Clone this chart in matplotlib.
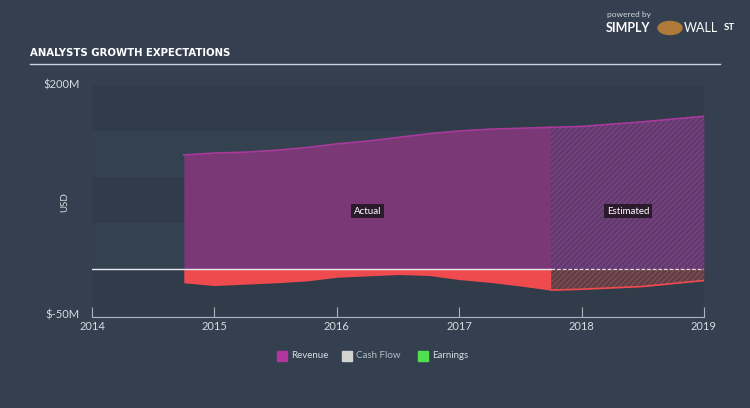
import matplotlib
matplotlib.use("Agg")
import matplotlib.pyplot as plt
from matplotlib.patches import Rectangle, Circle
import matplotlib.font_manager as fm

plt.rcParams['font.family'] = ['Lato', 'DejaVu Sans']
plt.rcParams['hatch.linewidth'] = 0.6

# ---------------- data ----------------
title = "ANALYSTS GROWTH EXPECTATIONS"
x_ticks = [2014, 2015, 2016, 2017, 2018, 2019]
y_tick_vals = [200, -50]
y_tick_labels = ["$200M", "$-50M"]

act_years = [2014.75, 2015.0, 2015.25, 2015.5, 2015.75, 2016.0, 2016.25,
             2016.5, 2016.75, 2017.0, 2017.25, 2017.5, 2017.75]
act_revenue = [124, 126, 127, 129, 132, 136, 139, 143, 147, 150, 152, 153, 154]
act_earnings = [-15, -18, -16.5, -15, -13, -9, -7.5, -6, -7, -11.5, -14.5, -18.5, -23]

est_years = [2017.75, 2018.0, 2018.5, 2019.0]
est_revenue = [154, 155, 160, 166]
est_earnings = [-23, -22, -19, -12.5]
est_cashflow = [0, 0, 0, 0]

legend_labels = ["Revenue", "Cash Flow", "Earnings"]
legend_colors = ["#b3349c", "#d2d2d2", "#4fe04f"]

# ---------------- condensed bold font for the title ----------------
def is_cond(f):
    n = f.name.lower()
    st = f.stretch
    return ("narrow" in n or "condensed" in n or
            st in ("condensed", "semi-condensed", "extra-condensed", "ultra-condensed") or
            (isinstance(st, int) and st < 500))

def wt(f):
    w = f.weight
    if isinstance(w, str):
        return {"bold": 700, "semibold": 600, "demibold": 600, "heavy": 800,
                "black": 900, "extra bold": 800}.get(w, 400)
    return w

cands = [f for f in fm.fontManager.ttflist if is_cond(f)]
bold_cands = [f for f in cands if wt(f) >= 600]
pick = bold_cands[0] if bold_cands else (cands[0] if cands else None)
if pick is not None:
    title_props = fm.FontProperties(fname=pick.fname, size=8.1)
else:
    title_props = fm.FontProperties(family="DejaVu Sans", weight="bold", size=7.5)

# ---------------- style ----------------
BG = "#344050"
BAND = "#303c4a"
PLOT = "#34414f"
REV = "#7b3877"
REV_EDGE = "#a93a9c"
REV_EST = "#633970"
REV_HATCH = "#7f4c88"
EARN = "#ef4b4f"
EARN_EST = "#603e46"
EARN_HATCH = "#925458"
TXT = "#d5dbe0"

W, H = 750, 408
fig = plt.figure(figsize=(W / 100, H / 100), dpi=100, facecolor=BG)

def fx(px):
    return px / W

def fy(py):
    return 1 - py / H

ax = fig.add_axes([fx(92), fy(315), fx(704) - fx(92), fy(85) - fy(315)])
ax.set_facecolor(PLOT)
ax.set_xlim(2014, 2019)
ax.set_ylim(-50, 200)

# background bands
for lo, hi in [(150, 200), (50, 100), (-50, 0)]:
    ax.axhspan(lo, hi, color=BAND, lw=0, zorder=0)

# actual
ax.fill_between(act_years, 0, act_revenue, color=REV, lw=0, zorder=2)
ax.plot(act_years, act_revenue, color=REV_EDGE, lw=1.2, zorder=3)
ax.fill_between(act_years, 0, act_earnings, color=EARN, lw=0, zorder=2)

# estimated
ax.fill_between(est_years, 0, est_revenue, color=REV_EST, lw=0, zorder=2)
ax.fill_between(est_years, 0, est_revenue, facecolor="none", edgecolor=REV_HATCH,
                hatch="//////", lw=0, zorder=2)
ax.plot(est_years, est_revenue, color=REV_EDGE, lw=1.2, zorder=3)
ax.fill_between(est_years, 0, est_earnings, color=EARN_EST, lw=0, zorder=2)
ax.fill_between(est_years, 0, est_earnings, facecolor="none", edgecolor=EARN_HATCH,
                hatch="//////", lw=0, zorder=2)
ax.plot(est_years, est_earnings, color=EARN, lw=1.2, zorder=3)
ax.plot(est_years, est_cashflow, color="#e8d8e4", lw=0.9, ls=(0, (3, 1.5)), zorder=4)

# zero line
ax.plot([2014, act_years[-1]], [0, 0], color="#e6eaee", lw=1.0, zorder=4)

# labels inside
for xv, lab in [(2016.25, "Actual"), (2018.38, "Estimated")]:
    ax.text(xv, 63, lab, color="white", fontsize=7, ha="center", va="center", zorder=5,
            bbox=dict(boxstyle="square,pad=0.3", fc="#2b1a2c", ec="none"))

# axes styling
for s in ["top", "right", "left"]:
    ax.spines[s].set_visible(False)
ax.spines["bottom"].set_color("#aab4be")
ax.spines["bottom"].set_linewidth(0.8)
ax.spines["bottom"].set_position(("data", -52))
ax.set_xticks(x_ticks)
ax.set_xticklabels([str(t) for t in x_ticks])
ax.tick_params(axis="x", colors="#aab4be", labelcolor=TXT, labelsize=8, length=7,
               width=0.8, direction="in", pad=3)
ax.set_yticks([])
ax.text(-0.02, 200, y_tick_labels[0], transform=ax.get_yaxis_transform(), ha="right",
        va="center", color=TXT, fontsize=8)
ax.text(-0.02, -50, y_tick_labels[1], transform=ax.get_yaxis_transform(), ha="right",
        va="center", color=TXT, fontsize=8)
fig.text(fx(65), fy(202), "USD", rotation=90, color=TXT, fontsize=7, ha="center", va="center")

# title and rule
fig.text(fx(30), fy(53), title, color="white", fontproperties=title_props,
         ha="left", va="center")
fig.add_artist(plt.Line2D([fx(30), fx(720)], [fy(64), fy(64)], color="#c8d3dc", lw=1.0))

# logo
fig.text(fx(607), fy(15), "powered by", color="#cfd6dc", fontsize=6, ha="left", va="center")
fig.text(fx(606), fy(28), "SIMPLY", color="white", fontsize=9, fontweight="bold",
         ha="left", va="center")
fig.add_artist(Circle((fx(670), fy(28)), 0.016, transform=fig.transFigure,
                      color="#b07a3a", zorder=5))
fig.text(fx(684), fy(28), "WALL", color="white", fontsize=9, ha="left", va="center")
fig.text(fx(724), fy(28), "ST", color="white", fontsize=7, fontweight="bold",
         ha="left", va="center")

# legend
positions = [277, 342, 418]
for p, lab, col in zip(positions, legend_labels, legend_colors):
    fig.add_artist(Rectangle((fx(p), fy(361)), fx(10), 10 / H, transform=fig.transFigure,
                             color=col))
    fig.text(fx(p + 14), fy(356), lab, color=TXT if lab != "Cash Flow" else "#b5bec6",
             fontsize=7, ha="left", va="center")

fig.savefig("out.png", dpi=100, facecolor=BG)
